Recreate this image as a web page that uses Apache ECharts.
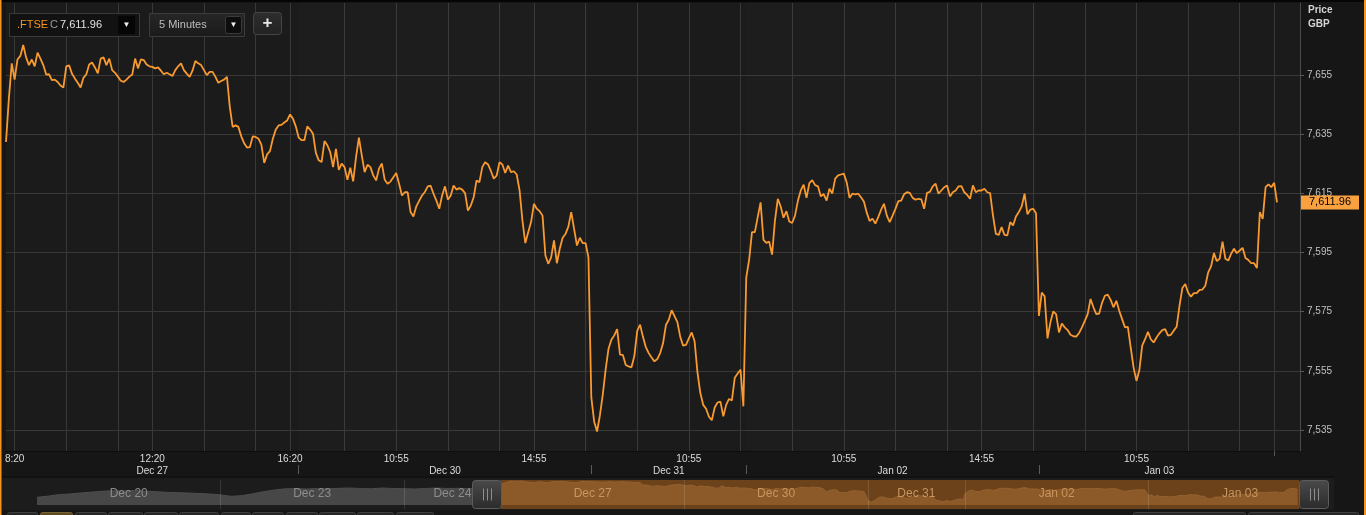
<!DOCTYPE html>
<html>
<head>
<meta charset="utf-8">
<script src="https://cdn.jsdelivr.net/npm/echarts@6/dist/echarts.min.js"></script>
<style>
html,body{margin:0;padding:0;background:#161616;}
#c{width:1366px;height:515px;}
</style>
</head>
<body>
<div id="c"></div>
<script>
// ---------------- DATA ----------------
const instrument = '.FTSE';
const intervalLabel = '5 Minutes';
const currency = 'GBP';

// trading sessions shown in the navigator (5-minute bars from 08:05 to the close)
const navDayNames  = ['Dec 20','Dec 23','Dec 24','Dec 27','Dec 30','Dec 31','Jan 02','Jan 03'];
const navDayCloses = ['16:30','16:30','12:30','16:30','16:30','12:30','16:30','16:30'];

// main chart window
const mainFirstBar = 'Dec 27 08:05';
const mainAxisEnd  = 'Jan 03 15:40';

// FTSE 5-minute closes from Dec 27 08:05
const dec27 = [
7632.4,7647,7659,7653.5,7660.3,7661.5,7665.2,7661,7658.4,7660.3,
7658,7662.6,7660.6,7658.4,7655.2,7655.3,7653.3,7653.5,7652.7,7651.5,
7650.8,7658,7658.3,7655.5,7653.9,7652.4,7650.8,7654.1,7655.3,7658.6,
7659.3,7657.6,7655.6,7660.6,7661,7658.4,7660.6,7656.7,7655.8,7654.5,
7653.1,7652.7,7653.5,7654.5,7655.2,7660.6,7657.3,7660.3,7660.1,7658.6,
7658,7657.8,7657.3,7657.6,7656.5,7655.3,7655.8,7655.3,7654.7,7656.7,
7658,7659,7656.7,7655.5,7654.4,7656.5,7659.8,7659,7658.4,7656.7,
7655,7656.1,7656.1,7654.4,7652.4,7653,7653.5,7654.4,7644.3,7637.5,
7638,7637.5,7634.3,7632,7630.5,7630.7,7634.3,7634.1,7633.5,7631.5,
7625.3,7628.2,7629.3,7633.5,7636.5,7638,7638.2,7639,7639.7,7641.7,
7640.3,7637.7];
const dec30 = [
7633.9,7633,7633,7637.7,7636.6,7635.2,7628.7,7626.2,7625.6,7632.7,
7631.3,7629,7623.9,7630.1,7623,7625.1,7623.9,7619.6,7623.7,7619.1,
7627.3,7633.9,7627.9,7622.2,7624.7,7623.9,7621.1,7619.4,7623.4,7625.1,
7619.6,7618.3,7619,7620.5,7621.9,7618.3,7614.3,7615.4,7615.4,7608.7,
7607.2,7610.6,7612.5,7614.3,7615.5,7617.4,7617.6,7614.9,7612.6,7609.8,
7614.3,7617.4,7612.9,7614.3,7617.7,7616.3,7616.8,7616.3,7615.1,7609.2,
7610.9,7613.7,7619.4,7618.8,7623.9,7625.6,7624.8,7622.6,7620,7621,
7625.6,7624.8,7621.9,7624.4,7622.2,7622.5,7621.4,7616,7605.8,7598.2,
7601.9,7605.3,7611.5,7609.8,7609,7607.5,7594,7591.2,7593.4,7599.1,
7591.4,7596.3,7600,7601.3,7603.8,7608.7,7603,7597.4,7600,7598.2,
7598.2,7593.4];
const dec31 = [
7546,7537.8,7534.5,7540,7547,7555.5,7562.5,7565.5,7567,7569.1,
7560.5,7560.4,7557,7556.5,7556.2,7560,7568.5,7570.6,7566.5,7563,
7561,7559.5,7558.2,7559,7561,7564.3,7570.5,7572.3,7575.5,7573.5,
7571.5,7566.5,7563.5,7563.8,7566,7568,7565,7554.5,7547.5,7543.5,
7542.2,7539.5,7538.3,7542.6,7544.3,7544.6,7539.6,7543.5,7545.5,7545,
7552.7,7554.1,7555.4,7543];
const jan02 = [
7586.5,7592.5,7601.9,7601.9,7607,7612,7599.3,7598.3,7598.7,7594.3,
7605.8,7613.2,7610.6,7606.8,7609,7605.5,7605,7607.5,7612.5,7616,
7618,7613.5,7618.5,7619.5,7617.8,7617.4,7614,7614.8,7612.6,7616.6,
7615,7620,7621.1,7621.4,7621.7,7618.8,7613.5,7614.9,7614.7,7614.9,
7613.7,7612.3,7608.5,7605.7,7606.5,7604.8,7607,7609.5,7611.5,7607.5,
7605.3,7607.5,7609.8,7612.4,7612.6,7614.7,7615.4,7615.2,7613.5,7612.9,
7613.2,7613,7609.8,7615.2,7615.5,7617.4,7618.3,7614.9,7616,7617.1,
7617.7,7614,7615.4,7616,7617.4,7617.5,7615.4,7614.5,7613.2,7617.7,
7615.4,7616,7616,7616.6,7615.4,7615.1,7607.5,7601.3,7601,7603.6,
7601,7600.8,7605.3,7604.2,7607.2,7608.7,7610.6,7614.9,7608,7609.5,
7609.8,7608.3];
const jan03 = [
7573.6,7581.5,7580.2,7566,7571.4,7575.1,7574.2,7568,7571,7569.7,
7568.8,7567.2,7566.7,7566.6,7567.8,7569.7,7571.9,7574.2,7579.3,7576.5,
7574.2,7574.4,7578,7580.4,7580.8,7579,7576.5,7578.7,7575.3,7572.5,
7569.7,7569.9,7562.9,7556.1,7551.6,7555.2,7563.5,7565.7,7568.2,7565.7,
7564.6,7566.3,7567.7,7568.8,7569.1,7566.9,7567.2,7568.6,7569.9,7577,
7583,7584.4,7581.5,7580.1,7581.3,7581.3,7582.4,7582.5,7583.8,7588.3,
7590.3,7594.8,7592.1,7592.9,7598.7,7592.9,7592.3,7594.6,7596.3,7594.8,
7595.7,7596.6,7593.2,7592.5,7591.4,7591.4,7589.8,7608.7,7606.4,7617.1,
7618.1,7617.1,7618.6,7611.96];

// vertical grid lines and time labels of the main chart
const gridTimes = ['Dec 27 08:20','Dec 27 09:50','Dec 27 11:20','Dec 27 12:20','Dec 27 13:50','Dec 27 15:20','Dec 27 16:20',
  'Dec 30 09:25','Dec 30 10:55','Dec 30 12:25','Dec 30 13:55','Dec 30 14:55','Dec 30 16:25',
  'Dec 31 09:25','Dec 31 10:55','Dec 31 12:25',
  'Jan 02 09:25','Jan 02 10:55','Jan 02 12:25','Jan 02 13:55','Jan 02 14:55','Jan 02 16:25',
  'Jan 03 09:25','Jan 03 10:55','Jan 03 12:25','Jan 03 13:55','Jan 03 14:55'];
const timeLabels = ['Dec 27 08:20','Dec 27 12:20','Dec 27 16:20','Dec 30 10:55','Dec 30 14:55',
  'Dec 31 10:55','Jan 02 10:55','Jan 02 14:55','Jan 03 10:55'];
const extraTicks = ['Jan 03 14:55'];
const yTicks = [7535, 7555, 7575, 7595, 7615, 7635, 7655];

// navigator history before the main window (read every 30 minutes)
const navEarlyPoints = [
 ['Dec 20 08:05',7564],['Dec 20 08:35',7571],['Dec 20 09:05',7580],['Dec 20 09:35',7584],['Dec 20 10:05',7590],
 ['Dec 20 10:35',7595],['Dec 20 11:05',7600],['Dec 20 11:35',7604],['Dec 20 12:05',7602],['Dec 20 12:35',7605],
 ['Dec 20 13:05',7601],['Dec 20 13:35',7598],['Dec 20 14:05',7594],['Dec 20 14:35',7592],['Dec 20 15:05',7590],
 ['Dec 20 15:35',7587],['Dec 20 16:05',7584],['Dec 20 16:30',7580],
 ['Dec 23 08:05',7576],['Dec 23 08:35',7570],['Dec 23 09:05',7574],['Dec 23 09:35',7585],['Dec 23 10:05',7598],
 ['Dec 23 10:35',7608],['Dec 23 11:05',7615],['Dec 23 11:35',7616],['Dec 23 12:05',7614],['Dec 23 12:35',7617],
 ['Dec 23 13:05',7615],['Dec 23 13:35',7618],['Dec 23 14:05',7620],['Dec 23 14:35',7617],['Dec 23 15:05',7615],
 ['Dec 23 15:35',7620],['Dec 23 16:05',7617],['Dec 23 16:30',7616],
 ['Dec 24 08:05',7616],['Dec 24 08:35',7614],['Dec 24 09:05',7617],['Dec 24 09:35',7620],['Dec 24 10:05',7617],
 ['Dec 24 10:35',7618],['Dec 24 11:05',7616],['Dec 24 11:35',7619],['Dec 24 12:05',7617],['Dec 24 12:30',7618]
];
const navWindow = ['Dec 27 08:05', 'Jan 03 15:05'];

// ---------------- BUILD ----------------
const priceValues = [].concat(dec27, dec30, dec31, jan02, jan03);
const lastPrice = priceValues[priceValues.length - 1];
const fmt2 = v => v.toLocaleString('en-US', {minimumFractionDigits: 2, maximumFractionDigits: 2});

function pad(n){ return String(n).padStart(2,'0'); }
function sessionSlots(day, close){
  const out = [];
  const p = close.split(':').map(Number);
  const end = p[0]*60 + p[1];
  for (let m = 8*60 + 5; m <= end; m += 5) out.push(day + ' ' + pad(Math.floor(m/60)) + ':' + pad(m % 60));
  return out;
}
const navCats = [];
navDayNames.forEach((d, k) => sessionSlots(d, navDayCloses[k]).forEach(s => navCats.push(s)));
const mainCats = navCats.slice(navCats.indexOf(mainFirstBar), navCats.indexOf(mainAxisEnd) + 1);

const idxSet = (list, cats) => new Set(list.map(t => cats.indexOf(t)));
const gridIdx = idxSet(gridTimes, mainCats);
const labelIdx = idxSet(timeLabels, mainCats);
const extraTickIdx = idxSet(extraTicks, mainCats);

// day starts / centres in the main chart
const mainDayStarts = [];
mainCats.forEach((c, i) => { if (c.slice(7) === '08:05') mainDayStarts.push(i); });
const dayStartIdx = new Set(mainDayStarts.slice(1));
const dayCenterIdx = new Set();
mainDayStarts.forEach((s, k) => {
  const e = Math.min(k + 1 < mainDayStarts.length ? mainDayStarts[k+1] : Infinity, priceValues.length) - 1;
  dayCenterIdx.add(Math.round((s + e) / 2));
});
const dayBands = [];
mainDayStarts.forEach((s, k) => {
  if (k % 2 === 1) {
    const e = (k + 1 < mainDayStarts.length ? mainDayStarts[k+1] : mainCats.length) - 1;
    dayBands.push([{xAxis: mainCats[s]}, {xAxis: mainCats[e]}]);
  }
});

// navigator day centres and separators
const navStarts = [];
navCats.forEach((c, i) => { if (c.slice(7) === '08:05') navStarts.push(i); });
const navCenterIdx = new Map();
navStarts.forEach((s, k) => {
  const e = (k + 1 < navStarts.length ? navStarts[k+1] : navCats.length) - 1;
  navCenterIdx.set(Math.round((s + e) / 2), navDayNames[k]);
});
const selStartIdx = navCats.indexOf(navWindow[0]);
const selEndIdx = navCats.indexOf(navWindow[1]);
const navSeparators = navStarts.slice(1).filter(i => i !== selStartIdx).map(i => ({xAxis: navCats[i]}));
const navSelected = priceValues.map((v, i) => [mainCats[i], v]);

const FONT = '"Liberation Sans", Arial, sans-serif';
const ORANGE = '#f99a31';
const NAV_BASE = 7518;

const chart = echarts.init(document.getElementById('c'), null, {renderer: 'canvas'});

const option = {
  animation: false,
  backgroundColor: '#161616',
  textStyle: {fontFamily: FONT},
  grid: [
    {left: 6, right: 66, top: 3, bottom: 64, show: true, backgroundColor: '#1b1b1b', borderWidth: 0},
    {left: 37, right: 36, top: 480, bottom: 6}
  ],
  xAxis: [
    {
      type: 'category', gridIndex: 0, data: mainCats, boundaryGap: false,
      axisLine: {show: true, lineStyle: {color: '#0e0e0e', width: 1}},
      axisTick: {show: true, interval: i => extraTickIdx.has(i), length: 5, lineStyle: {color: '#555'}},
      axisLabel: {interval: i => labelIdx.has(i), formatter: v => v.slice(7).replace(/^0/, ''),
                  color: '#dcdcdc', fontSize: 10, margin: 3},
      splitLine: {show: true, interval: i => gridIdx.has(i), lineStyle: {color: '#383838', width: 1}}
    },
    {
      type: 'category', gridIndex: 0, data: mainCats, boundaryGap: false, position: 'bottom', offset: 14,
      axisLine: {show: false},
      axisTick: {show: true, interval: i => dayStartIdx.has(i), length: 9, lineStyle: {color: '#5a5a5a'}},
      axisLabel: {interval: i => dayCenterIdx.has(i), formatter: v => v.slice(0, 6),
                  color: '#dcdcdc', fontSize: 10, margin: 1},
      splitLine: {show: false}
    },
    {
      type: 'category', gridIndex: 1, data: navCats, boundaryGap: false, z: 4,
      axisLine: {show: false}, axisTick: {show: false}, splitLine: {show: false},
      axisLabel: {
        inside: true, margin: 9, fontSize: 12,
        interval: i => navCenterIdx.has(i),
        formatter: (v, i) => {
          const name = v.slice(0, 6);
          const idx = navCats.indexOf(v);
          return (idx >= selStartIdx && idx <= selEndIdx + 102) ? '{o|' + name + '}' : '{g|' + name + '}';
        },
        rich: {g: {color: '#8d8d8d', fontSize: 12}, o: {color: '#c8955f', fontSize: 12}}
      }
    }
  ],
  yAxis: [
    {
      type: 'value', gridIndex: 0, position: 'right', min: 7527.9, max: 7679.4,
      axisLine: {show: true, lineStyle: {color: '#4a4a4a'}},
      axisTick: {show: true, customValues: yTicks, length: 4, lineStyle: {color: '#5a5a5a'}},
      axisLabel: {customValues: yTicks, color: '#c0c0c0', fontSize: 10, margin: 7,
                  formatter: v => v.toLocaleString('en-US')},
      splitLine: {show: true, lineStyle: {color: '#383838'}}
    },
    {type: 'value', gridIndex: 1, min: 7494, max: 7668, show: false}
  ],
  series: [
    {
      name: instrument, type: 'line', xAxisIndex: 0, yAxisIndex: 0, data: priceValues,
      symbol: 'none', z: 2, clip: true,
      lineStyle: {color: ORANGE, width: 1.8},
      markArea: {silent: true, itemStyle: {color: 'rgba(255,255,255,0.012)'}, data: dayBands},
      markLine: {
        silent: true, symbol: ['none', 'none'],
        lineStyle: {color: 'rgba(0,0,0,0)', width: 1},
        label: {show: true, position: 'end', distance: 1, formatter: fmt2(lastPrice),
                color: '#000', backgroundColor: '#f9a03f', padding: [2, 8, 1, 8], fontSize: 11},
        data: [{yAxis: lastPrice}]
      }
    },
    {
      type: 'line', xAxisIndex: 2, yAxisIndex: 1, data: navEarlyPoints, symbol: 'none', z: 2, silent: true,
      lineStyle: {color: '#4d4d4d', width: 1},
      areaStyle: {color: '#474747', opacity: 1, origin: NAV_BASE},
      markArea: {silent: true, itemStyle: {color: '#6b4219'},
                 data: [[{xAxis: navWindow[0], yAxis: 7494}, {xAxis: navWindow[1], yAxis: 7668}]]}
    },
    {
      type: 'line', xAxisIndex: 2, yAxisIndex: 1, data: navSelected, symbol: 'none', z: 3, silent: true,
      lineStyle: {color: '#966130', width: 1},
      areaStyle: {color: '#8c5a29', opacity: 1, origin: NAV_BASE},
      markLine: {silent: true, symbol: ['none', 'none'], label: {show: false},
                 lineStyle: {color: 'rgba(255,255,255,0.12)', width: 1, type: 'solid'},
                 data: navSeparators}
    },
    {
      type: 'custom', xAxisIndex: 2, yAxisIndex: 1, z: 6, silent: true,
      data: [[navWindow[0], 0], [navWindow[1], 1]],
      renderItem: function (params, api) {
        const p = api.coord([api.value(0), 7600]);
        const cs = params.coordSys;
        const w = 29, h = cs.height - 1;
        const x0 = Math.round(api.value(1) === 0 ? p[0] - w : p[0]) + 0.5;
        const y0 = cs.y + 0.5;
        const cx = Math.round(x0 + w / 2) + 0.5, cy = y0 + h / 2;
        const bars = [-4, 0, 4].map(d => ({
          type: 'line', shape: {x1: cx + d, y1: cy - 6, x2: cx + d, y2: cy + 6},
          style: {stroke: '#8e8e8e', lineWidth: 1}
        }));
        return {
          type: 'group',
          children: [{
            type: 'rect', shape: {x: x0, y: y0, width: w, height: h, r: 3},
            style: {
              fill: new echarts.graphic.LinearGradient(0, 0, 0, 1, [
                {offset: 0, color: '#4a4a4a'}, {offset: 1, color: '#2b2b2b'}]),
              stroke: '#5c5c5c', lineWidth: 1
            }
          }].concat(bars)
        };
      }
    }
  ],
  graphic: [
    // frame accents
    {type: 'rect', z: -1, shape: {x: 2, y: 478, width: 1332, height: 32}, style: {fill: '#1c1c1c'}},
    {type: 'rect', z: 50, shape: {x: 2, y: 476.5, width: 1332, height: 1}, style: {fill: '#0c0c0c'}},
    {type: 'rect', z: 50, shape: {x: 0, y: 0, width: 1366, height: 2}, style: {fill: '#050505'}},
    {type: 'rect', z: 50, shape: {x: 0, y: 0, width: 1.5, height: 515}, style: {fill: '#f7941d'}},
    {type: 'rect', z: 50, shape: {x: 1364, y: 0, width: 2, height: 515}, style: {fill: '#f7941d'}},
    // axis title
    {type: 'text', z: 50, style: {x: 1308, y: 10, text: 'Price', fill: '#d4d4d4', font: 'bold 10px ' + FONT, verticalAlign: 'middle'}},
    {type: 'text', z: 50, style: {x: 1308, y: 24, text: currency, fill: '#d4d4d4', font: 'bold 10px ' + FONT, verticalAlign: 'middle'}},
    // toolbar: instrument box
    {type: 'rect', z: 50, shape: {x: 9.5, y: 13.5, width: 130, height: 23}, style: {fill: '#121212', stroke: '#3a3a3a', lineWidth: 1}},
    {type: 'text', z: 51, style: {x: 17, y: 25, text: instrument, fill: '#f7941d', font: '11px ' + FONT, verticalAlign: 'middle'}},
    {type: 'text', z: 51, style: {x: 50, y: 25, text: 'C', fill: '#9a9a9a', font: '11px ' + FONT, verticalAlign: 'middle'}},
    {type: 'text', z: 51, style: {x: 60, y: 25, text: fmt2(lastPrice), fill: '#e2e2e2', font: '11px ' + FONT, verticalAlign: 'middle'}},
    {type: 'rect', z: 51, shape: {x: 118, y: 16, width: 17, height: 18}, style: {fill: '#060606'}},
    {type: 'text', z: 52, style: {x: 126.5, y: 25, text: '▼', fill: '#f0f0f0', font: '8px ' + FONT, align: 'center', verticalAlign: 'middle'}},
    // toolbar: interval box
    {type: 'rect', z: 50, shape: {x: 149.5, y: 13.5, width: 95, height: 23},
     style: {fill: new echarts.graphic.LinearGradient(0, 0, 0, 1, [{offset: 0, color: '#262626'}, {offset: 1, color: '#1a1a1a'}]), stroke: '#3c3c3c', lineWidth: 1}},
    {type: 'text', z: 51, style: {x: 159, y: 25, text: intervalLabel, fill: '#bdbdbd', font: '11px ' + FONT, verticalAlign: 'middle'}},
    {type: 'rect', z: 51, shape: {x: 225.5, y: 16.5, width: 16, height: 17, r: 2}, style: {fill: '#0d0d0d', stroke: '#3a3a3a', lineWidth: 1}},
    {type: 'text', z: 52, style: {x: 233.5, y: 25, text: '▼', fill: '#f0f0f0', font: '8px ' + FONT, align: 'center', verticalAlign: 'middle'}},
    // toolbar: add button
    {type: 'rect', z: 50, shape: {x: 253.5, y: 12.5, width: 28, height: 22, r: 3},
     style: {fill: new echarts.graphic.LinearGradient(0, 0, 0, 1, [{offset: 0, color: '#2e2e2e'}, {offset: 1, color: '#222'}]), stroke: '#444', lineWidth: 1}},
    {type: 'text', z: 51, style: {x: 267.5, y: 23, text: '+', fill: '#e8e8e8', font: 'bold 17px ' + FONT, align: 'center', verticalAlign: 'middle'}},
    // partially visible range buttons along the bottom edge
    ...[[7,30],[40,32],[75,31],[108,34],[144,33],[179,39],[221,29],[252,31],[286,31],[319,36],[357,36],[396,37],[1133,112],[1248,110]]
      .map((b, k) => ({type: 'rect', z: 50, shape: {x: b[0] + 0.5, y: 512.5, width: b[1], height: 6, r: 2},
        style: {fill: k === 1 ? '#5e4b24' : '#262626', stroke: k === 1 ? '#7a6333' : '#3e3e3e', lineWidth: 1}}))
  ]
};
chart.setOption(option);
</script>
</body>
</html>
